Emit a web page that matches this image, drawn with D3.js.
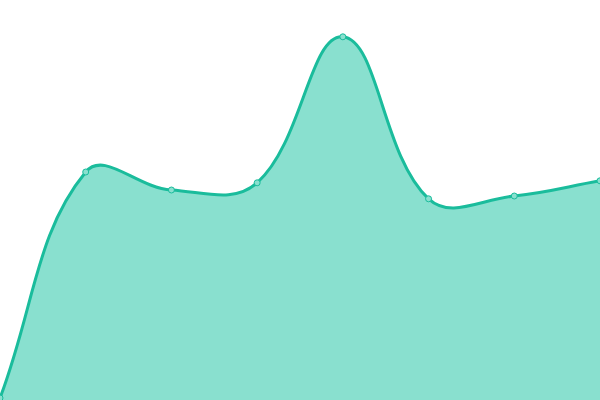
<!DOCTYPE html>
<html>
<head>
<meta charset="utf-8">
<script src="https://cdn.jsdelivr.net/npm/d3@7"></script>
<style>
  html, body { margin: 0; padding: 0; background: #fff; }
  svg { display: block; }
</style>
</head>
<body>
<div id="chart"></div>
<script>
// values
var categories = ["A", "B", "C", "D", "E", "F", "G", "H"]
var values = [0.5, 57, 52.5, 54.3, 90.8, 50.3, 51, 54.8]

var width = 600
var height = 400
var lineColor = "#1abc9c"
var areaColor = "#89e0cf"

var x = d3.scalePoint().domain(categories).range([0, width])
var y = d3.scaleLinear().domain([0, 100]).range([height, 0])

var pts = categories.map((c, i) => [x(c), y(values[i])])

// spline with tension, control points split by segment length
function smoothPath(p, points, t) {
	var cps = []
	for (var i = 0; i < points.length; i++) {
		var cur = points[i]
		var prev = i > 0 ? points[i - 1] : cur
		var next = i < points.length - 1 ? points[i + 1] : cur
		var d01 = Math.hypot(cur[0] - prev[0], cur[1] - prev[1])
		var d12 = Math.hypot(next[0] - cur[0], next[1] - cur[1])
		var s01 = d01 / (d01 + d12) || 0
		var s12 = d12 / (d01 + d12) || 0
		var fa = t * s01, fb = t * s12
		var before = [cur[0] - fa * (next[0] - prev[0]), cur[1] - fa * (next[1] - prev[1])]
		var after = [cur[0] + fb * (next[0] - prev[0]), cur[1] + fb * (next[1] - prev[1])]
		// keep control points inside the drawing area
		before = [Math.max(0, Math.min(width, before[0])), Math.max(0, Math.min(height, before[1]))]
		after = [Math.max(0, Math.min(width, after[0])), Math.max(0, Math.min(height, after[1]))]
		cps.push([before, after])
	}
	p.moveTo(points[0][0], points[0][1])
	for (var i = 1; i < points.length; i++) {
		var a = cps[i - 1][1], b = cps[i][0]
		p.bezierCurveTo(a[0], a[1], b[0], b[1], points[i][0], points[i][1])
	}
	return p
}

const svg = d3.select("#chart").append("svg")
	.attr("width", width)
	.attr("height", height)

var areaPath = smoothPath(d3.path(), pts, 0.4)
areaPath.lineTo(pts[pts.length - 1][0], y(0))
areaPath.lineTo(pts[0][0], y(0))
areaPath.closePath()

svg.append("path")
	.attr("d", areaPath.toString())
	.attr("fill", areaColor)

svg.append("path")
	.attr("d", smoothPath(d3.path(), pts, 0.4).toString())
	.attr("fill", "none")
	.attr("stroke", lineColor)
	.attr("stroke-width", 3)

svg.selectAll("circle.pt")
	.data(categories)
	.join("circle")
	.attr("class", "pt")
	.attr("cx", d => x(d))
	.attr("cy", (d, i) => y(values[i]))
	.attr("r", 3)
	.attr("fill", areaColor)
	.attr("stroke", lineColor)
	.attr("stroke-width", 1)
</script>
</body>
</html>
